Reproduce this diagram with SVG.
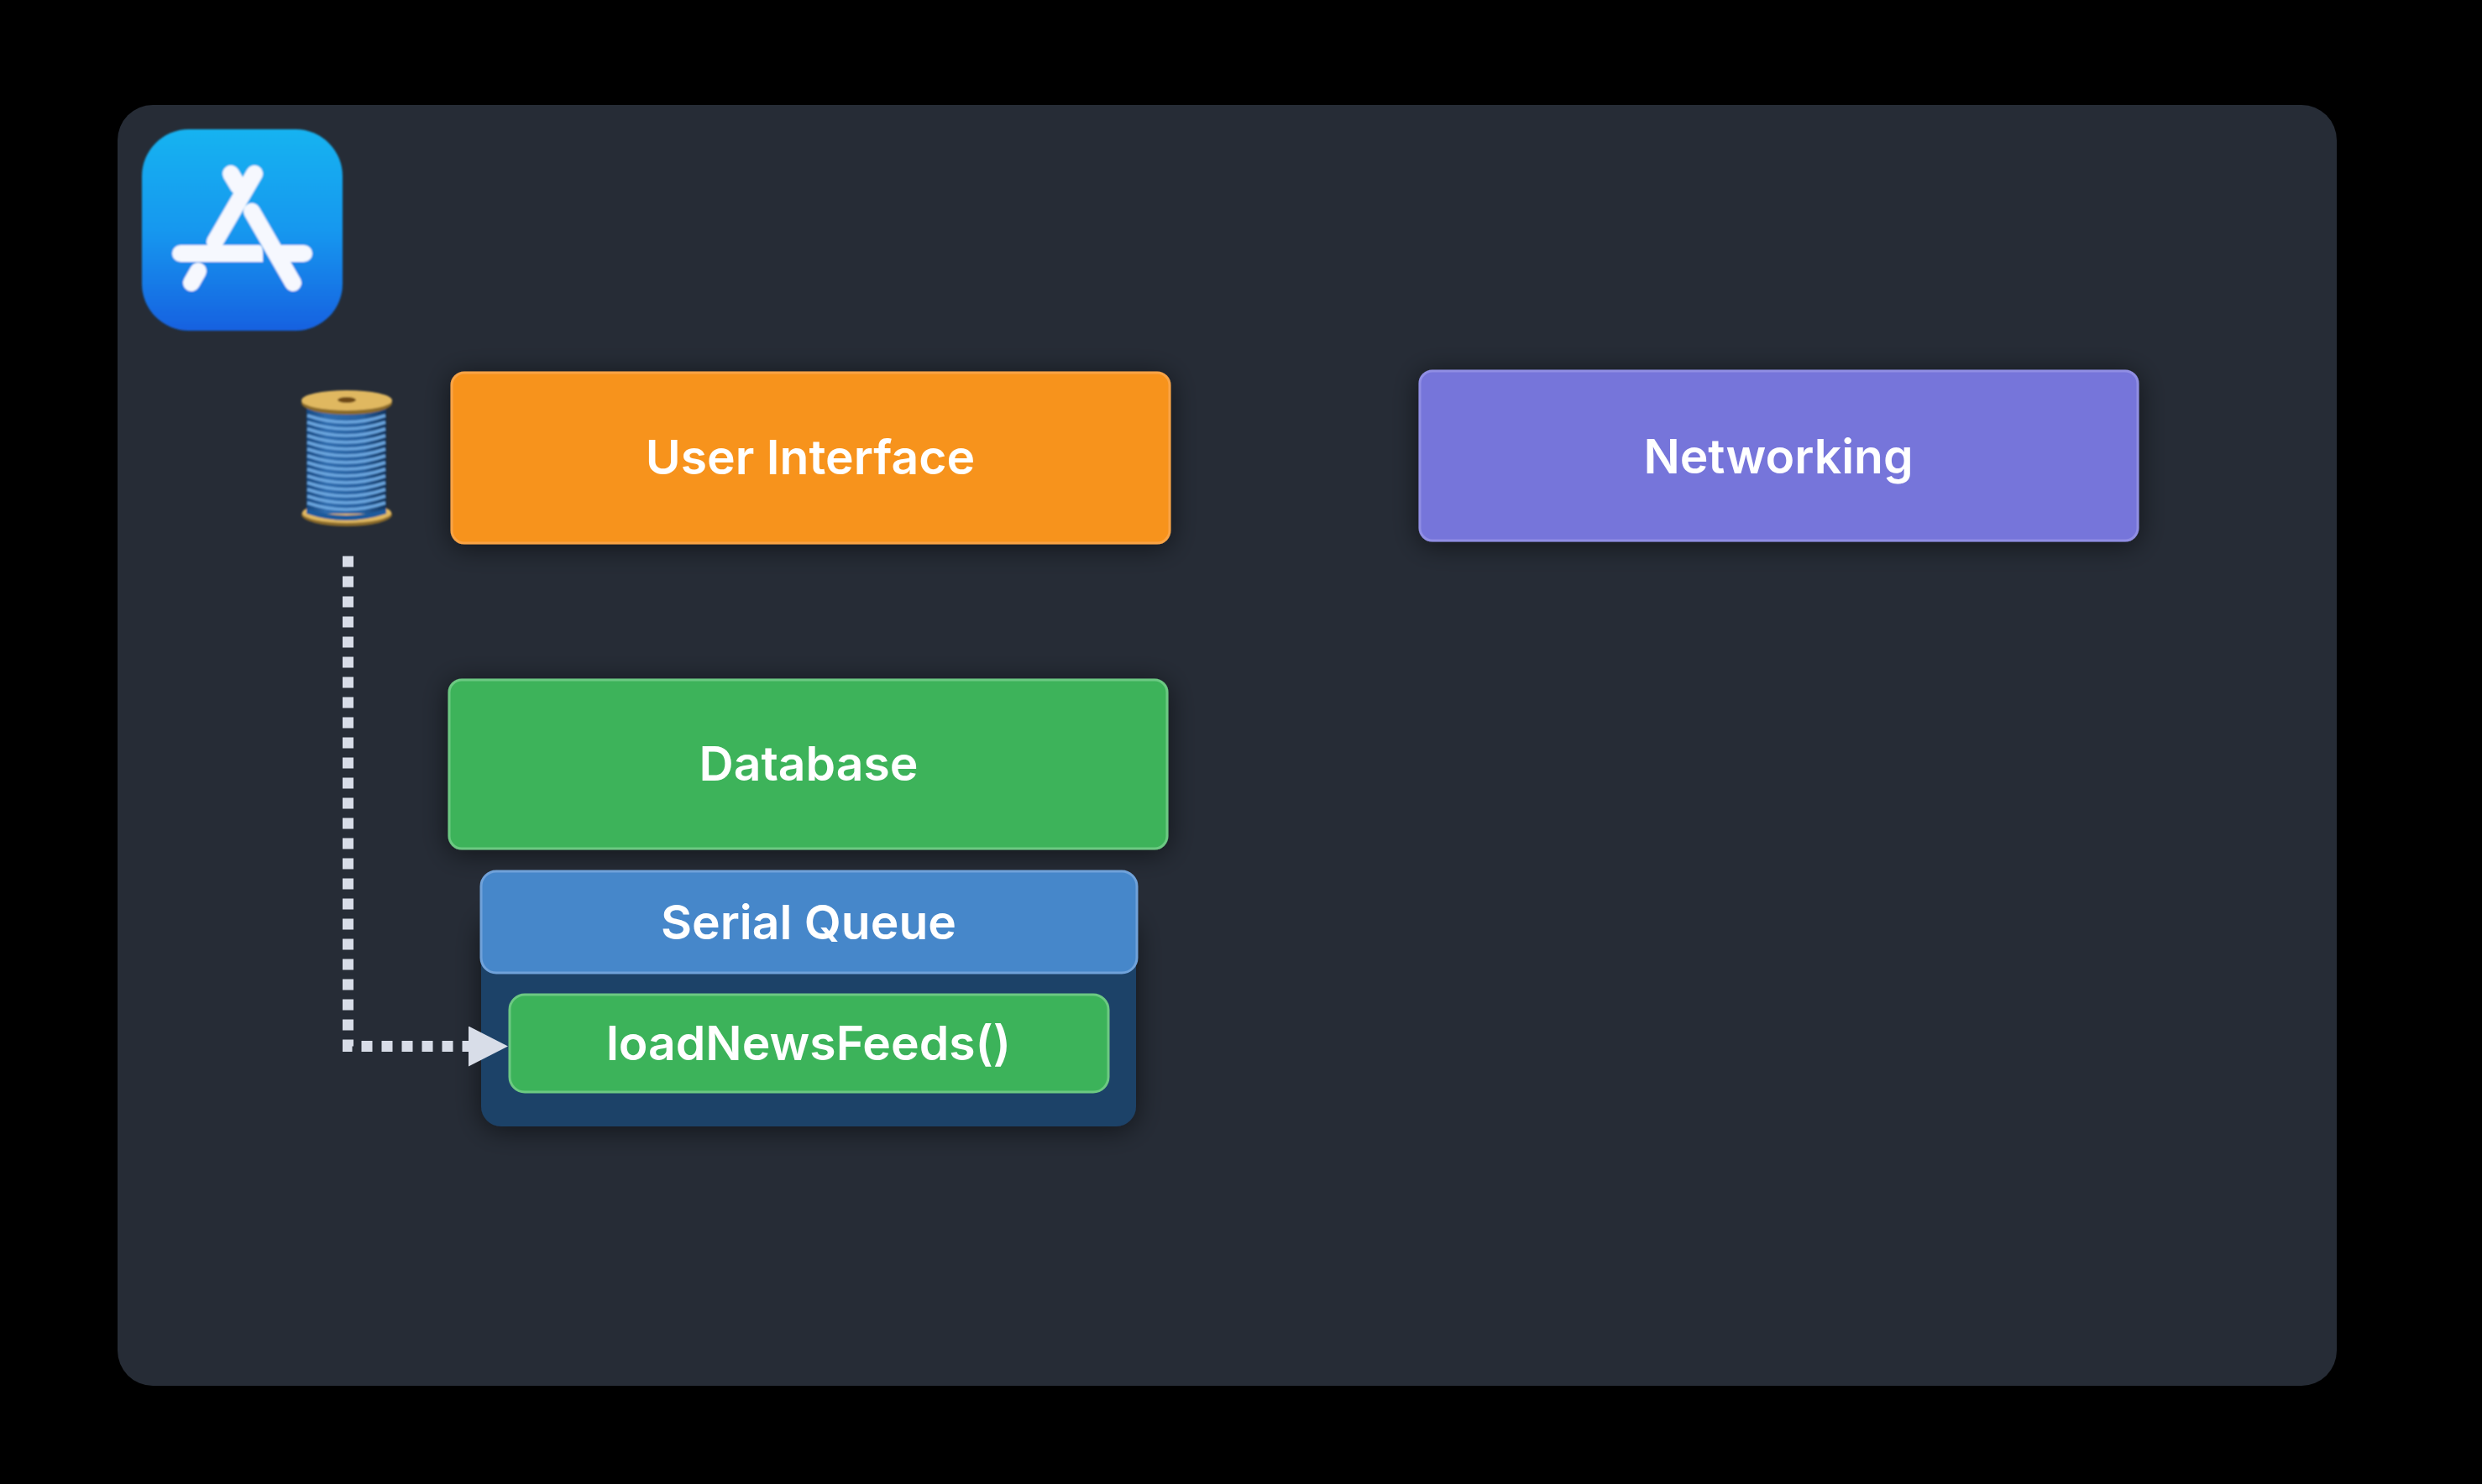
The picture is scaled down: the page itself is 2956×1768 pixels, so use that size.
<svg xmlns="http://www.w3.org/2000/svg" xmlns:xlink="http://www.w3.org/1999/xlink" width="2956" height="1768" viewBox="0 0 2956 1768">
<style>
.lbl{font-family:"Inter","Liberation Sans",sans-serif;font-size:57px;font-weight:600;fill:#fff;text-anchor:middle}
.box{stroke-width:3}
.ic{stroke:#f6f8fe;stroke-width:20;stroke-linecap:round;fill:none}
.th{fill:none;stroke:#6aa5de;stroke-width:3.500}
.flange{fill:#e0b860}
</style>
<defs>
<filter id="sh" x="-10%" y="-30%" width="120%" height="160%"><feDropShadow dx="0" dy="4" stdDeviation="16" flood-color="#000" flood-opacity=".55"/></filter>
<filter id="soft" x="-10%" y="-10%" width="120%" height="120%"><feGaussianBlur stdDeviation="0.8"/></filter>
<linearGradient id="ag" x1="0" y1="0" x2="0" y2="1"><stop offset="0" stop-color="#17b3f1"/><stop offset=".5" stop-color="#1598ef"/><stop offset="1" stop-color="#1261e0"/></linearGradient>
<linearGradient id="tg" x1="0" y1="0" x2="1" y2="0"><stop offset="0" stop-color="#174880"/><stop offset=".25" stop-color="#2f6cae"/><stop offset=".7" stop-color="#27609f"/><stop offset="1" stop-color="#123660"/></linearGradient>
<marker id="ah" markerUnits="userSpaceOnUse" markerWidth="48" markerHeight="48" refX="0" refY="24" orient="auto"><path d="M0 0L47 24L0 48Z" fill="#d8dde8"/></marker>
<path id="tl" class="th" d="M366 0Q412 16 459 0"/>
</defs>
<rect width="2956" height="1768" fill="#000"/>
<rect id="panel" x="140" y="125" width="2643" height="1526" rx="42" fill="#262c36"/>

<g id="app-icon" filter="url(#soft)">
<rect x="169" y="154" width="239" height="240" rx="56" fill="url(#ag)"/>
<path class="ic" d="M335 302H362"/>
<path d="M215 292H309Q313 292 313 302V312H215A10 10 0 0 1 215 292Z" fill="#f6f8fe"/>
<path class="ic" d="M303 207L256 288"/>
<path class="ic" d="M228 337L236 323"/>
<path class="ic" d="M275 207L284 222"/>
<path class="ic" d="M300 252L349 337"/>
</g>

<g id="thread-spool">
<g filter="url(#soft)">
<ellipse cx="413" cy="613" rx="54" ry="14" fill="#8a6a2c"/>
<ellipse cx="413" cy="611" rx="53" ry="12" fill="#e0b860"/>
<rect x="365" y="482" width="95" height="130" fill="url(#tg)"/>
<path d="M365 606Q412 622 460 606V612Q412 628 365 612Z" fill="#1f5a9c"/>
<use xlink:href="#tl" y="495"/><use xlink:href="#tl" y="503"/><use xlink:href="#tl" y="511"/><use xlink:href="#tl" y="519"/><use xlink:href="#tl" y="527"/><use xlink:href="#tl" y="535"/><use xlink:href="#tl" y="543"/><use xlink:href="#tl" y="551"/><use xlink:href="#tl" y="559"/><use xlink:href="#tl" y="567"/><use xlink:href="#tl" y="575"/><use xlink:href="#tl" y="583"/><use xlink:href="#tl" y="591"/><use xlink:href="#tl" y="599"/>
<ellipse cx="413" cy="480" rx="54" ry="14" fill="#8a6a2c"/>
<ellipse cx="413" cy="477" rx="54" ry="12" class="flange"/>
<ellipse cx="413" cy="476.500" rx="11" ry="3.500" fill="#6e4a14"/>
</g>
</g>

<g id="user-interface"><rect class="box" x="538" y="444" width="855" height="203" rx="15" fill="#f7931e" stroke="#f9a344" filter="url(#sh)"/><text class="lbl" x="965" y="565">User Interface</text></g>
<g id="networking"><rect class="box" x="1691" y="442" width="855" height="202" rx="15" fill="#7674da" stroke="#908ee4" filter="url(#sh)"/><text class="lbl" x="2118" y="564">Networking</text></g>
<g id="database"><rect class="box" x="535" y="810" width="855" height="201" rx="15" fill="#3cb35a" stroke="#6cc982" filter="url(#sh)"/><text class="lbl" x="963" y="930">Database</text></g>
<g id="serial-queue">
<rect x="573" y="1090" width="780" height="252" rx="24" fill="#1e4268" filter="url(#sh)"/>
<rect class="box" x="573" y="1038" width="781" height="121" rx="18" fill="#4687ca" stroke="#70a2da"/>
<text class="lbl" x="963" y="1119">Serial Queue</text>
</g>
<g id="load-news-feeds"><rect class="box" x="607" y="1185" width="713" height="116" rx="18" fill="#3cb35a" stroke="#6cc982"/><text class="lbl" x="963" y="1263">loadNewsFeeds()</text></g>

<g id="connectors">
<path d="M414.500 662.500V1246.500H558" fill="none" stroke="#d8dde8" stroke-width="13" stroke-dasharray="13 11" marker-end="url(#ah)"/>
</g>
</svg>
